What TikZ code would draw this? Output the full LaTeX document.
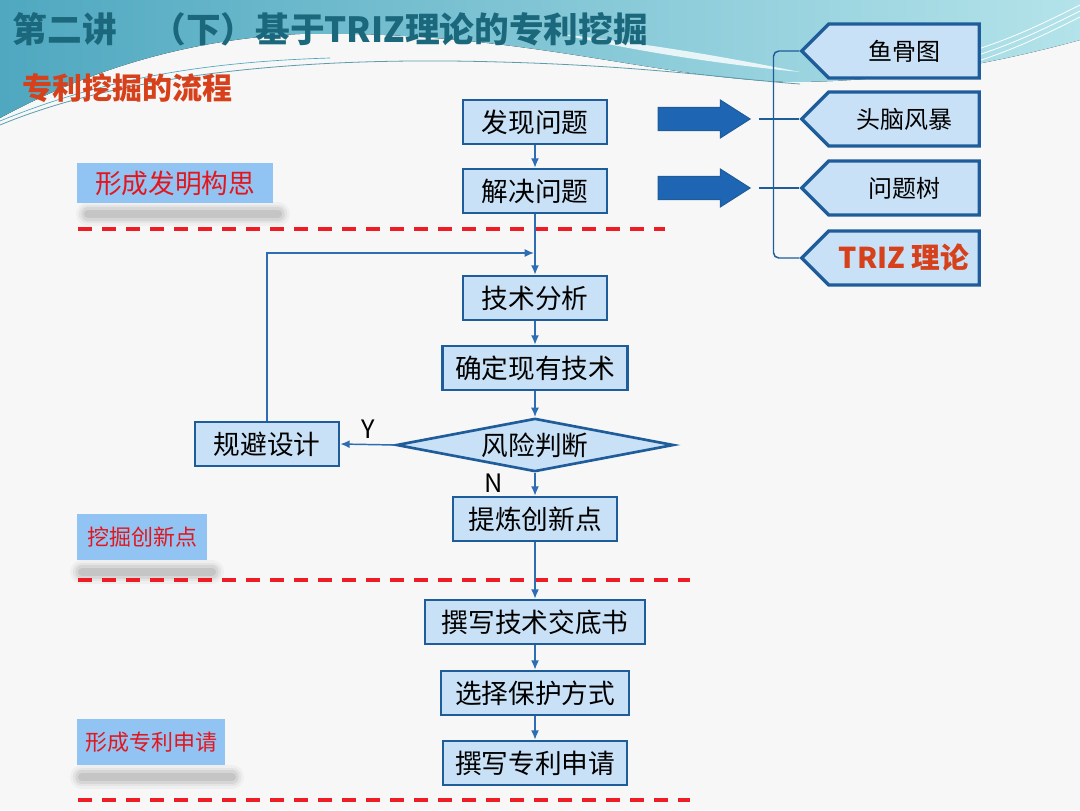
\documentclass[tikz,border=0pt]{standalone}
\usepackage{fontspec}
\setmainfont{Noto Sans CJK SC}
\usetikzlibrary{shapes.geometric,shapes.symbols,shapes.arrows,arrows.meta}
\definecolor{hdA}{HTML}{4FA8C0}
\definecolor{hdB}{HTML}{B4E3EA}
\definecolor{titleteal}{HTML}{1B687C}
\definecolor{subred}{HTML}{D6401A}
\definecolor{boxfill}{HTML}{C9E1F6}
\definecolor{boxline}{HTML}{1F5C9A}
\definecolor{flowline}{HTML}{2F6DB3}
\definecolor{tagfill}{HTML}{91C4F2}
\definecolor{tagred}{HTML}{E3161E}
\definecolor{dashred}{HTML}{EE1C24}
\definecolor{bigarrow}{HTML}{1E66B4}
\tikzset{
  fl/.style={draw=boxline, line width=2pt, fill=boxfill, minimum height=33pt,
    inner sep=0pt, font=\fontsize{20}{24}\selectfont},
  pd/.style={diamond, draw=boxline, line width=2pt, fill=boxfill, aspect=5,
    inner sep=0pt, minimum width=208pt, minimum height=40pt,
    font=\fontsize{20}{24}\selectfont},
  tool/.style={signal, signal to=west, signal pointer angle=90, draw=boxline,
    line width=2.5pt, fill=boxfill, minimum width=133pt, minimum height=40.5pt,
    inner sep=0pt, font=\fontsize{18}{22}\selectfont},
  tag/.style={fill=tagfill, text=tagred, inner sep=0pt},
  bigarr/.style={single arrow, fill=bigarrow, draw=boxline, line width=0.8pt,
    minimum height=69pt, minimum width=27pt, inner sep=8.25pt,
    single arrow head extend=5.5pt, single arrow tip angle=65},
  dsh/.style={dashred, line width=3pt, dash pattern=on 10.5pt off 7.5pt},
  brk/.style={boxline, line width=1.1pt, rounded corners=4pt},
}
\begin{document}
\begin{tikzpicture}[x=0.75pt,y=-0.75pt]
      \useasboundingbox (0,0) rectangle (1080,810);
      % background and header swoosh
      \fill[black!3] (0,0) rectangle (1080,810);
      \fill[left color=hdA, right color=hdB] (0,0) -- (1080,0) -- (1080,40)
        .. controls (1000,62) and (900,82) .. (790,82)
        .. controls (650,78) and (520,30) .. (300,34)
        .. controls (170,40) and (70,80) .. (0,118) -- cycle;
      \fill[white, opacity=0.8] (560,34) .. controls (650,44) and (720,56) .. (800,72)
        .. controls (720,64) and (640,52) .. (560,34);
      \draw[hdA!70!gray, line width=0.6pt] (0,125) .. controls (120,75) and (300,56) .. (500,62)
        .. controls (650,66) and (740,80) .. (800,84);
      \draw[hdA, line width=0.5pt] (0,121) .. controls (100,80) and (200,62) .. (330,58);
      \foreach \k in {0,6,12}
        \draw[white, line width=0.6pt] (940,60+\k) .. controls (1000,45+\k) and (1040,25+\k) .. (1080,5+\k);
      \node[anchor=west, text=titleteal, font=\fontsize{26}{30}\selectfont\bfseries] (title) at (8,29)
        {第二讲　（下）基于TRIZ理论的专利挖掘};
      \node[anchor=west, text=subred, font=\fontsize{22.5}{26}\selectfont\bfseries] (sub) at (18,88)
        {专利挖掘的流程};
      % stage labels
      \foreach \a/\b/\y in {88/278/214, 82/212/572, 82/232/777}
        \foreach \w/\o in {18/0.05,14/0.08,10/0.11,6/0.15}
          \draw[line width=\w pt, black!60, opacity=\o, line cap=round] (\a,\y) -- (\b,\y);
      \draw
        (175,183) node[tag, minimum width=147pt, minimum height=30pt, font=\fontsize{20}{24}\selectfont] (fxgs) {形成发明构思}
        (142,537) node[tag, minimum width=97.5pt, minimum height=34.5pt, font=\fontsize{16.5}{20}\selectfont] (wjcx) {挖掘创新点}
        (151,742) node[tag, minimum width=111pt, minimum height=34.5pt, font=\fontsize{16.5}{20}\selectfont] (xcsq) {形成专利申请};
      \draw[dsh] (78,229) -- (665,229);
      \draw[dsh] (78,580) -- (690,580);
      \draw[dsh] (78,800) -- (690,800);
      % flow
      \draw
        (535,122) node[fl, minimum width=108pt] (fx) {发现问题}
        (535,191) node[fl, minimum width=108pt] (jj) {解决问题}
        (535,298) node[fl, minimum width=108pt] (jsfx) {技术分析}
        (535,368) node[fl, minimum width=139pt] (qdxy) {确定现有技术}
        (535,445) node[pd] (fxpd) {风险判断}
        (267,444) node[fl, minimum width=108pt] (gbsj) {规避设计}
        (535,519) node[fl, minimum width=123pt] (tl) {提炼创新点}
        (535,622) node[fl, minimum width=165pt] (zxjs) {撰写技术交底书}
        (535,693) node[fl, minimum width=141pt] (xzbh) {选择保护方式}
        (535,763) node[fl, minimum width=138pt] (zxsq) {撰写专利申请};
      \node[font=\fontsize{19}{22}\selectfont] (y) at (368,429) {Y};
      \node[font=\fontsize{19}{22}\selectfont] (n) at (494,483) {N};
      \coordinate (lp) at (534,253);
      \begin{scope}[flowline, line width=1.1pt, -{Latex[length=7pt,width=6pt]}]
        \draw (fx) to (jj);
        \draw (jj) to (jsfx);
        \draw (gbsj.north) |- (lp);
        \draw (jsfx) to (qdxy);
        \draw (qdxy) to (fxpd);
        \draw (fxpd.west) to (gbsj.east);
        \draw (fxpd.south) to (tl.north);
        \draw (tl) to (zxjs);
        \draw (zxjs) to (xzbh);
        \draw (xzbh) to (zxsq);
      \end{scope}
      % tools
      \draw
        (904,51) node[tool] (yg) {鱼骨图}
        (904,119) node[tool] (tn) {头脑风暴}
        (904,188) node[tool] (wt) {问题树}
        (904,258) node[tool, text=subred, font=\fontsize{21.5}{26}\selectfont\bfseries] (triz) {TRIZ 理论}
        (695,119) node[bigarr] (a1) {}
        (695,188) node[bigarr] (a2) {};
      \begin{scope}[brk]
        \draw (yg.west) -- ++(-26,0) |- (triz.west);
        \draw ([xshift=6pt]a1.tip) to (tn.west);
        \draw ([xshift=6pt]a2.tip) to (wt.west);
      \end{scope}
    \end{tikzpicture}
\end{document}
